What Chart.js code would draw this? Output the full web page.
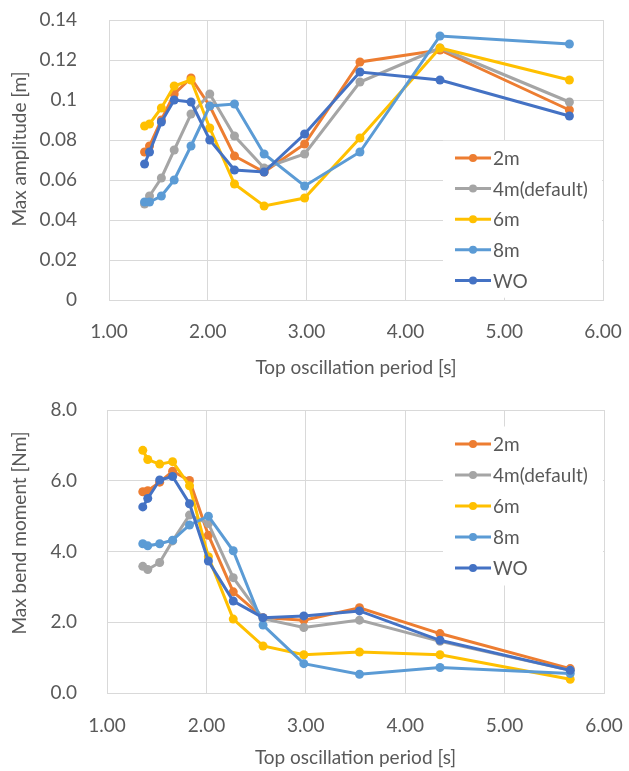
<!DOCTYPE html>
<html>
<head>
<meta charset="utf-8">
<title>Charts</title>
<script src="https://cdn.jsdelivr.net/npm/chart.js@4.4.1/dist/chart.umd.min.js"></script>
<style>
    body{ margin:0; background:#fff; }
    canvas{ display:block; }
</style>
</head>
<body>
<canvas id="ampChart" width="629" height="385"></canvas>
<canvas id="momChart" width="629" height="386"></canvas>
<script>

    // top oscillation period [s], shared by every series
    const period = [1.36, 1.41, 1.53, 1.66, 1.83, 2.02, 2.27, 2.57, 2.98, 3.54, 4.35, 5.66]

    const seriesNames = ['2m', '4m(default)', '6m', '8m', 'WO']
    const seriesColors = ['#ED7D31', '#A5A5A5', '#FFC000', '#5B9BD5', '#4472C4']

    // max amplitude [m]
    const amp2m = [0.074, 0.077, 0.090, 0.103, 0.111, 0.097, 0.072, 0.064, 0.078, 0.119, 0.125, 0.095]
    const amp4m = [0.048, 0.052, 0.061, 0.075, 0.093, 0.103, 0.082, 0.066, 0.073, 0.109, 0.126, 0.099]
    const amp6m = [0.087, 0.088, 0.096, 0.107, 0.110, 0.086, 0.058, 0.047, 0.051, 0.081, 0.126, 0.110]
    const amp8m = [0.049, 0.049, 0.052, 0.060, 0.077, 0.097, 0.098, 0.073, 0.057, 0.074, 0.132, 0.128]
    const ampWO = [0.068, 0.074, 0.089, 0.100, 0.099, 0.080, 0.065, 0.064, 0.083, 0.114, 0.110, 0.092]

    // max bend moment [Nm]
    const mom2m = [5.69, 5.72, 5.96, 6.27, 6.01, 4.46, 2.86, 2.13, 2.06, 2.41, 1.68, 0.69]
    const mom4m = [3.58, 3.49, 3.69, 4.30, 5.03, 4.79, 3.26, 2.10, 1.85, 2.06, 1.46, 0.64]
    const mom6m = [6.86, 6.60, 6.47, 6.54, 5.86, 3.85, 2.09, 1.33, 1.08, 1.16, 1.08, 0.39]
    const mom8m = [4.22, 4.16, 4.22, 4.32, 4.75, 5.00, 4.02, 1.92, 0.83, 0.53, 0.72, 0.55]
    const momWO = [5.26, 5.50, 6.02, 6.12, 5.35, 3.73, 2.60, 2.13, 2.18, 2.32, 1.49, 0.64]

    const xTicks = [1, 2, 3, 4, 5, 6]

    const FONT = 'Lato'
    const TEXT = '#595959'
    const GRID = '#d9d9d9'

    Chart.defaults.font.family = FONT
    Chart.defaults.font.size = 19
    Chart.defaults.color = TEXT

    function makeSets(list){
        return list.map((vals, i) => ({
            label: seriesNames[i],
            data: vals.map((v, k) => ({x: period[k], y: v})),
            borderColor: seriesColors[i],
            backgroundColor: seriesColors[i],
            pointBackgroundColor: seriesColors[i],
            borderWidth: 3,
            pointRadius: 4.5,
            pointBorderWidth: 0,
            showLine: true,
            order: list.length - i     // last series on top, like excel
        }))
    }

    // legend drawn inside the plot, on a white box
    const boxLegend = {
        id: 'boxLegend',
        afterDatasetsDraw(chart, args, opt){
            const c = chart.ctx
            const sets = chart.data.datasets
            c.save()
            c.fillStyle = '#fff'
            c.fillRect(opt.x, opt.y - opt.row/2 - 2, opt.w, opt.row*sets.length + 4)
            c.font = '19px ' + FONT
            c.textBaseline = 'middle'
            c.textAlign = 'left'
            sets.forEach((d, i) => {
                const y = opt.y + i*opt.row
                c.strokeStyle = d.borderColor
                c.lineWidth = 3
                c.beginPath()
                c.moveTo(opt.x + 12, y)
                c.lineTo(opt.x + 48, y)
                c.stroke()
                c.fillStyle = d.borderColor
                c.beginPath()
                c.arc(opt.x + 30, y, 4, 0, Math.PI*2)
                c.fill()
                c.fillStyle = TEXT
                c.fillText(d.label, opt.x + 50, y + 1)
            })
            c.restore()
        }
    }

    // excel puts the y title a bit above the plot centre
    const yTitle = {
        id: 'yTitle',
        afterDraw(chart, args, opt){
            const c = chart.ctx
            c.save()
            c.translate(opt.x, opt.y)
            c.rotate(-Math.PI/2)
            c.font = '19px ' + FONT
            c.fillStyle = TEXT
            c.textAlign = 'center'
            c.textBaseline = 'middle'
            c.fillText(opt.text, 0, 0)
            c.restore()
        }
    }

    function makeChart(id, sets, yMin, yMax, yStep, yFmt, cfg){
        return new Chart(document.getElementById(id), {
            type: 'scatter',
            data: { datasets: sets },
            plugins: [boxLegend, yTitle],
            options: {
                responsive: false,
                animation: false,
                layout: { padding: { left: 0, right: cfg.right, top: cfg.top, bottom: 0 } },
                plugins: {
                    legend: { display: false },
                    tooltip: { enabled: false },
                    boxLegend: cfg.legend,
                    yTitle: cfg.yTitle
                },
                scales: {
                    x: {
                        type: 'linear',
                        min: 1, max: 6,
                        afterBuildTicks: s => { s.ticks = xTicks.map(v => ({value: v})) },
                        // tick padding is added to the end padding, drop it so layout padding rules
                        afterFit: s => { s.height = cfg.xHeight; s.paddingLeft = 0; s.paddingRight = 0 },
                        grid: { color: GRID, lineWidth: 1, drawTicks: false },
                        border: { color: GRID },
                        ticks: { padding: cfg.xPad, callback: v => v.toFixed(2) },
                        title: { display: true, text: 'Top oscillation period [s]', padding: { bottom: cfg.xTitlePad, top: 0 } }
                    },
                    y: {
                        min: yMin, max: yMax,
                        afterFit: s => { s.width = cfg.yWidth; s.paddingTop = 0; s.paddingBottom = 0 },
                        grid: { color: GRID, lineWidth: 1, drawTicks: false },
                        border: { color: GRID },
                        ticks: { stepSize: yStep, padding: cfg.yPad, callback: yFmt }
                    }
                }
            }
        })
    }

    makeChart('ampChart',
        makeSets([amp2m, amp4m, amp6m, amp8m, ampWO]),
        0, 0.14, 0.02,
        v => (Math.round(v*100)/100).toString(),
        {
            right: 26, top: 20, xHeight: 85, yWidth: 109, xPad: 20, yPad: 32, xTitlePad: 6,
            legend: { x: 443, y: 158, w: 159, row: 30.6 },
            yTitle: { x: 20, y: 149, text: 'Max amplitude [m]' }
        })

    makeChart('momChart',
        makeSets([mom2m, mom4m, mom6m, mom8m, momWO]),
        0, 8, 2,
        v => v.toFixed(1),
        {
            right: 25, top: 25, xHeight: 78, yWidth: 107, xPad: 21, yPad: 30, xTitlePad: 2,
            legend: { x: 443, y: 59, w: 160, row: 31 },
            yTitle: { x: 20, y: 148, text: 'Max bend moment [Nm]' }
        })

</script>
</body>
</html>
